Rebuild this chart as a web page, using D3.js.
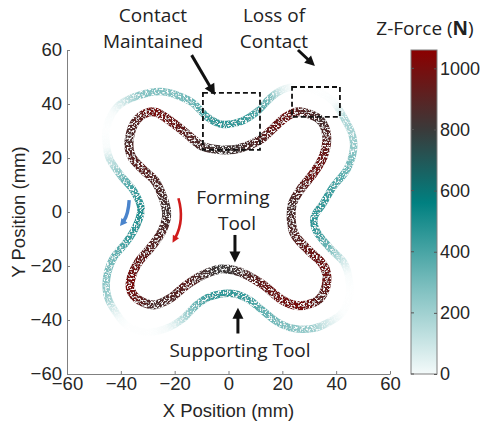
<!DOCTYPE html>
<html><head><meta charset="utf-8">
<script src="https://cdn.jsdelivr.net/npm/d3@7"></script>
<style>body{margin:0;background:#fff} svg{display:block}</style>
</head><body>
<script>
// ---- data (mm, N) ----
const xTicks=[-60,-40,-20,0,20,40,60];
const yTicks=[-60,-40,-20,0,20,40,60];
const cbTicks=[0,200,400,600,800,1000];

// forming tool path (inner)
const innerX=[-2,4.3,11.7,16.6,21.6,26.6,34.0,36.5,35.2,31.5,26.6,23.5,24.1,29.0,35.2,36.5,34.0,29.0,24.1,19.1,12.9,6.8,1.8,-3.2,-9.4,-15.5,-21.7,-27.9,-34.1,-36.6,-34.1,-29.2,-24.8,-23.0,-26.7,-31.7,-36.0,-36.9,-34.1,-27.9,-20.5,-14.3,-9.4];
const innerY=[23.0,23.6,26.7,31.0,35.3,37.1,34.1,27.9,20.5,14.3,8.1,2.0,-7.3,-13.5,-19.6,-25.8,-32.0,-34.4,-34.4,-32.0,-27.0,-23.3,-21.5,-21.2,-23.3,-27.0,-32.0,-34.4,-32.0,-27.0,-19.6,-13.5,-7.3,0.1,10.6,15.6,20.5,26.7,34.1,37.1,32.9,27.9,24.2];
const innerF=[820,840,900,950,980,900,840,900,960,980,900,850,880,950,980,960,900,980,1000,980,950,880,820,800,850,920,880,850,950,1000,960,900,880,830,880,920,900,860,900,1000,960,900,850];

// supporting tool path (outer)
const outerX=[-2.5,4.3,10.5,15.4,19.8,25.5,32.5,38.9,42.6,45.8,46.4,43.9,38.9,35.2,31.8,32.8,37.7,42.6,44.5,45.0,42.5,37.7,31.5,24.1,17.9,11.7,6.8,0.6,-6.9,-11.8,-16.8,-23.0,-30.0,-37.0,-40.3,-44.7,-45.3,-42.8,-37.8,-34.1,-32.5,-35.4,-39.7,-44.0,-45.3,-45.5,-43.2,-39.7,-32.9,-25.5,-19.3,-13.1,-8.1];
const outerY=[32.5,33.4,37.1,42.1,45.2,46.5,45.0,40.9,35.3,29.1,23.0,15.6,9.4,3.2,-2.0,-7.3,-13.4,-18.4,-23.3,-30.0,-37.0,-40.6,-43.1,-43.1,-40.6,-35.7,-32.0,-30.1,-31.4,-34.4,-39.4,-43.1,-44.5,-42.5,-39.4,-32.0,-24.6,-17.1,-11.0,-4.8,1.4,8.1,13.1,19.3,24.2,30.5,36.5,40.3,43.3,44.6,43.3,40.3,35.3];
const outerF=[460,450,380,300,120,0,0,30,200,220,250,330,400,450,460,440,300,150,40,0,20,120,230,260,300,350,430,460,440,330,200,60,0,0,50,230,270,320,420,470,480,420,300,170,40,10,40,140,260,280,280,330,430];

const W=482,H=425;
const svg=d3.select('body').append('svg').attr('width',W).attr('height',H);
const x=d3.scaleLinear().domain([-60,60]).range([67,390]);
const y=d3.scaleLinear().domain([-60,60]).range([374,50]);
const cDom=[0,280,560,800,1060];
const cRng=['#f4fafa','#7fc0c0','#008080','#3a3a3a','#8b0000'];
const color=d3.scaleLinear().domain(cDom).range(cRng).clamp(true);
const alpha=d3.scaleLinear().domain([0,250]).range([0.1,1]).clamp(true);
const cb=d3.scaleLinear().domain([0,1060]).range([374,50]);

const defs=svg.append('defs');
// speckle texture filter (ring markers look)
const f=defs.append('filter').attr('id','speck').attr('filterUnits','userSpaceOnUse')
  .attr('x',0).attr('y',0).attr('width',W).attr('height',H);
f.append('feTurbulence').attr('type','fractalNoise').attr('baseFrequency',0.55).attr('numOctaves',2).attr('seed',5).attr('result','n');
f.append('feColorMatrix').attr('in','n').attr('type','matrix')
  .attr('values','0 0 0 0 1  0 0 0 0 1  0 0 0 0 1  5 0 0 0 -2.45').attr('result','w');
f.append('feComposite').attr('in','w').attr('in2','SourceGraphic').attr('operator','in').attr('result','ws');
const fm=f.append('feMerge');
fm.append('feMergeNode').attr('in','SourceGraphic');
fm.append('feMergeNode').attr('in','ws');

let gid=0;
function drawTrack(X,Y,F,width){
  const g=svg.append('g').attr('filter','url(#speck)');
  const n=X.length;
  const P=X.map((v,i)=>[x(v),y(Y[i])]);
  for(let i=0;i<n;i++){
    const j=(i+1)%n;
    const p0=P[(i-1+n)%n],p1=P[i],p2=P[j],p3=P[(i+2)%n];
    const c1=[p1[0]+(p2[0]-p0[0])/6,p1[1]+(p2[1]-p0[1])/6];
    const c2=[p2[0]-(p3[0]-p1[0])/6,p2[1]-(p3[1]-p1[1])/6];
    const id='sg'+(gid++);
    const lg=defs.append('linearGradient').attr('id',id).attr('gradientUnits','userSpaceOnUse')
      .attr('x1',p1[0]).attr('y1',p1[1]).attr('x2',p2[0]).attr('y2',p2[1]);
    lg.append('stop').attr('offset',0).attr('stop-color',color(F[i])).attr('stop-opacity',alpha(F[i]));
    lg.append('stop').attr('offset',1).attr('stop-color',color(F[j])).attr('stop-opacity',alpha(F[j]));
    const p=d3.path(); p.moveTo(p1[0],p1[1]); p.bezierCurveTo(c1[0],c1[1],c2[0],c2[1],p2[0],p2[1]);
    g.append('path').attr('d',p.toString()).attr('fill','none')
      .attr('stroke',`url(#${id})`).attr('stroke-width',width).attr('stroke-linecap','butt');
  }
}

// ---- axes ----
const axisCol='#808080', txtCol='#262626';
const gx=svg.append('g').attr('transform',`translate(0,${y(-60)})`)
  .call(d3.axisBottom(x).tickValues(xTicks).tickSizeInner(-3).tickSizeOuter(0).tickPadding(3));
const gy=svg.append('g').attr('transform',`translate(${x(-60)},0)`)
  .call(d3.axisLeft(y).tickValues(yTicks).tickSizeInner(-3).tickSizeOuter(0).tickPadding(5));
[gx,gy].forEach(g=>{
  g.select('.domain').attr('stroke',axisCol);
  g.selectAll('.tick line').attr('stroke',axisCol);
  g.selectAll('.tick text').attr('fill',txtCol).style('font-family','"Liberation Sans",Arial,sans-serif').style('font-size','18.5px');
});
svg.append('text').attr('x',(x(-60)+x(60))/2).attr('y',417).attr('text-anchor','middle')
  .attr('fill',txtCol).style('font-family','"Liberation Sans",Arial,sans-serif').style('font-size','18.5px').text('X Position (mm)');
svg.append('text').attr('transform',`translate(25,${(y(-60)+y(60))/2}) rotate(-90)`).attr('text-anchor','middle')
  .attr('fill',txtCol).style('font-family','"Liberation Sans",Arial,sans-serif').style('font-size','18.5px').text('Y Position (mm)');

// ---- tracks ----
drawTrack(outerX,outerY,outerF,7.5);
drawTrack(innerX,innerY,innerF,9);

// ---- colorbar ----
const cbx0=411,cbx1=437;
const cg=defs.append('linearGradient').attr('id','cbgrad').attr('x1',0).attr('y1',1).attr('x2',0).attr('y2',0);
cDom.forEach((d,i)=>cg.append('stop').attr('offset',d/1060).attr('stop-color',cRng[i]));
svg.append('rect').attr('x',cbx0).attr('y',cb(1060)).attr('width',cbx1-cbx0).attr('height',cb(0)-cb(1060))
  .attr('fill','url(#cbgrad)').attr('stroke','#7f7f7f').attr('stroke-width',1);
const gcb=svg.append('g').attr('transform',`translate(${cbx1},0)`)
  .call(d3.axisRight(cb).tickValues(cbTicks).tickFormat(d3.format('d')).tickSizeInner(-3).tickSizeOuter(0).tickPadding(3));
gcb.select('.domain').remove();
gcb.selectAll('.tick line').attr('stroke','#555');
gcb.selectAll('.tick text').attr('fill',txtCol).style('font-family','"Liberation Sans",Arial,sans-serif').style('font-size','18px');
svg.append('g').selectAll('line').data(cbTicks).join('line')
  .attr('x1',cbx0).attr('x2',cbx0+3).attr('y1',d=>cb(d)).attr('y2',d=>cb(d)).attr('stroke','#555');
const zt=svg.append('text').attr('x',425).attr('y',35).attr('text-anchor','middle').attr('fill','#222')
  .style('font-family','"Open Sans",sans-serif').style('font-size','19px');
zt.append('tspan').text('Z-Force (');
zt.append('tspan').style('font-weight','bold').text('N');
zt.append('tspan').text(')');

// ---- dashed boxes ----
const boxes=[[-9.5,11.7,44.1,23.0],[23.6,41.4,46.3,35.2]];
svg.append('g').selectAll('rect').data(boxes).join('rect')
  .attr('x',d=>x(d[0])).attr('y',d=>y(d[2])).attr('width',d=>x(d[1])-x(d[0])).attr('height',d=>y(d[3])-y(d[2]))
  .attr('fill','none').attr('stroke','#111').attr('stroke-width',1.8).attr('stroke-dasharray','5,3');

// ---- arrows ----
function arrow(x1,y1,x2,y2,col,w,hl,hw){
  const dx=x2-x1,dy=y2-y1,L=Math.hypot(dx,dy),ux=dx/L,uy=dy/L;
  const bx=x2-ux*hl,by=y2-uy*hl;
  svg.append('line').attr('x1',x1).attr('y1',y1).attr('x2',bx+ux*1).attr('y2',by+uy*1).attr('stroke',col).attr('stroke-width',w);
  svg.append('path').attr('d',`M${x2},${y2}L${bx-uy*hw/2},${by+ux*hw/2}L${bx+uy*hw/2},${by-ux*hw/2}Z`).attr('fill',col);
}
arrow(x(-13.7),y(58.1),x(-5.0),y(43.3),'#111',3,11,11);
arrow(x(25.8),y(60.0),x(32.1),y(54.1),'#111',3,10,10);
arrow(x(2.4),y(-8.5),x(2.4),y(-18.7),'#111',3,11,11);
arrow(x(3.5),y(-45.0),x(3.5),y(-35.5),'#111',3,11,11);

function curvedArrow(p0,pc,p1,tip,col,w,hw){
  const p=d3.path(); p.moveTo(p0[0],p0[1]); p.quadraticCurveTo(pc[0],pc[1],p1[0],p1[1]);
  svg.append('path').attr('d',p.toString()).attr('fill','none').attr('stroke',col).attr('stroke-width',w);
  const dx=tip[0]-p1[0],dy=tip[1]-p1[1],L=Math.hypot(dx,dy),ux=dx/L,uy=dy/L;
  const bx=p1[0]-ux*1,by=p1[1]-uy*1;
  svg.append('path').attr('d',`M${tip[0]},${tip[1]}L${bx-uy*hw/2},${by+ux*hw/2}L${bx+uy*hw/2},${by-ux*hw/2}Z`).attr('fill',col);
}
curvedArrow([x(-18.6),y(5.1)],[x(-16.3),y(-3.0)],[x(-19.7),y(-9.4)],[x(-20.8),y(-11.4)],'#d01c1c',2.6,7);
curvedArrow([x(-36.9),y(4.4)],[x(-37.2),y(-0.7)],[x(-38.9),y(-3.4)],[x(-40.3),y(-5.2)],'#4a84cc',3.4,7.5);

// ---- annotation text ----
const ann=[['Contact',153,21.5],['Maintained',153,48],['Loss of',274,21.5],['Contact',274,48],
  ['Forming',233,204],['Tool',237,230],['Supporting Tool',240,357]];
svg.append('g').selectAll('text').data(ann).join('text')
  .attr('x',d=>d[1]).attr('y',d=>d[2]).attr('text-anchor','middle').attr('fill','#222')
  .style('font-family','"Open Sans",sans-serif').style('font-size','19px').text(d=>d[0]);
</script>
</body></html>
